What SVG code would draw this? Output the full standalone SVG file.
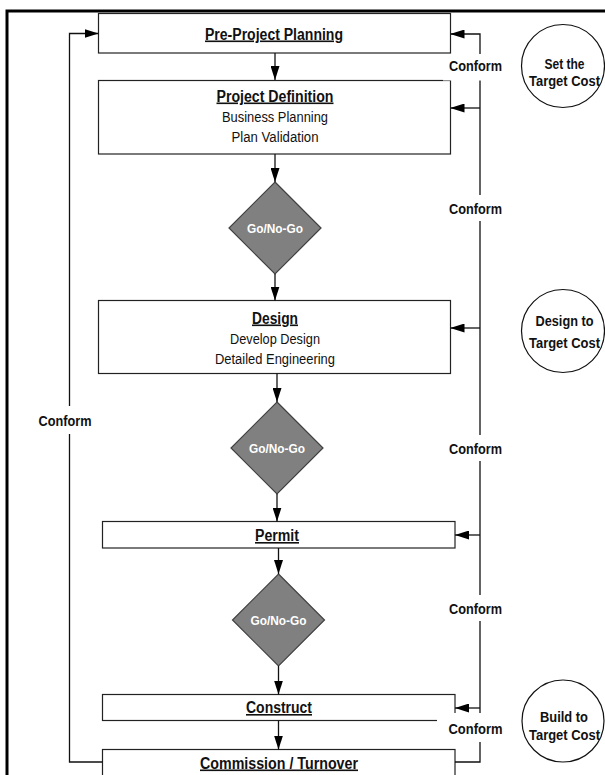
<svg xmlns="http://www.w3.org/2000/svg" width="605" height="775" viewBox="0 0 605 775">
  <style>
    .box { fill: #fff; stroke: #222; stroke-width: 1.2; }
    .dia { fill: #808080; stroke: #404040; stroke-width: 1.2; }
    .ring { fill: #fff; stroke: #111; stroke-width: 1.2; }
    .ln { fill: none; stroke: #111; stroke-width: 1.3; }
    .bg { fill: #fff; stroke: none; }
    text { font-family: "Liberation Sans", Arial, sans-serif; text-anchor: middle; fill: #111; }
    .h { font-size: 16px; font-weight: bold; text-decoration: underline; }
    .s { font-size: 14px; }
    .c { font-size: 15px; font-weight: bold; }
    .g { font-size: 13px; font-weight: bold; fill: #fff; }
  </style>
  <defs>
    <marker id="arrow" viewBox="0 0 10 10" refX="10" refY="5" markerUnits="userSpaceOnUse" markerWidth="14" markerHeight="9" orient="auto" preserveAspectRatio="none">
      <path d="M0,0 L10,5 L0,10 Z" fill="#000"/>
    </marker>
  </defs>

  <rect width="605" height="775" fill="#fff"/>
  <!-- outer frame, runs past the right and bottom edges -->
  <rect x="7" y="11" width="640" height="800" fill="none" stroke="#000" stroke-width="3"/>

  <g id="pre-project">
    <rect class="box" x="98.5" y="13.5" width="352" height="39.5"/>
    <text class="h" x="274" y="39.5" textLength="138" lengthAdjust="spacingAndGlyphs">Pre-Project Planning</text>
  </g>
  <g id="project-definition">
    <rect class="box" x="98.5" y="80.5" width="352" height="73.5"/>
    <text class="h" x="275" y="101.5" textLength="117" lengthAdjust="spacingAndGlyphs">Project Definition</text>
    <text class="s" x="275" y="122" textLength="106" lengthAdjust="spacingAndGlyphs">Business Planning</text>
    <text class="s" x="275" y="142" textLength="87" lengthAdjust="spacingAndGlyphs">Plan Validation</text>
  </g>
  <g id="gate-1">
    <polygon class="dia" points="275,182 321,228 275,274 229,228"/>
    <text class="g" x="275" y="232.5" textLength="56" lengthAdjust="spacingAndGlyphs">Go/No-Go</text>
  </g>
  <g id="design">
    <rect class="box" x="98.5" y="300.5" width="352" height="73"/>
    <text class="h" x="275" y="323.5" textLength="46" lengthAdjust="spacingAndGlyphs">Design</text>
    <text class="s" x="275" y="344" textLength="90" lengthAdjust="spacingAndGlyphs">Develop Design</text>
    <text class="s" x="275" y="364" textLength="120" lengthAdjust="spacingAndGlyphs">Detailed Engineering</text>
  </g>
  <g id="gate-2">
    <polygon class="dia" points="277,402 323,448 277,494 231,448"/>
    <text class="g" x="277" y="452.5" textLength="56" lengthAdjust="spacingAndGlyphs">Go/No-Go</text>
  </g>
  <g id="permit">
    <rect class="box" x="102.5" y="521.5" width="352.5" height="26.5"/>
    <text class="h" x="277" y="541" textLength="44" lengthAdjust="spacingAndGlyphs">Permit</text>
  </g>
  <g id="gate-3">
    <polygon class="dia" points="278.5,574 324.5,620 278.5,666 232.5,620"/>
    <text class="g" x="278.5" y="624.5" textLength="56" lengthAdjust="spacingAndGlyphs">Go/No-Go</text>
  </g>
  <g id="construct">
    <rect class="box" x="102.5" y="694.5" width="352.5" height="26"/>
    <text class="h" x="279" y="713" textLength="66" lengthAdjust="spacingAndGlyphs">Construct</text>
  </g>
  <g id="commission">
    <rect class="box" x="102.5" y="749.5" width="352.5" height="40"/>
    <text class="h" x="279" y="768.5" textLength="158" lengthAdjust="spacingAndGlyphs">Commission / Turnover</text>
  </g>

  <g id="set-target">
    <circle class="ring" cx="563" cy="66" r="41.5"/>
    <text class="c" x="564.5" y="68.5" textLength="40" lengthAdjust="spacingAndGlyphs">Set the</text>
    <text class="c" x="564.5" y="86" textLength="71" lengthAdjust="spacingAndGlyphs">Target Cost</text>
  </g>
  <g id="design-to-target">
    <circle class="ring" cx="563" cy="331" r="41.5"/>
    <text class="c" x="564.5" y="325.5" textLength="58" lengthAdjust="spacingAndGlyphs">Design to</text>
    <text class="c" x="564.5" y="347.5" textLength="71" lengthAdjust="spacingAndGlyphs">Target Cost</text>
  </g>
  <g id="build-to-target">
    <circle class="ring" cx="563" cy="721" r="41"/>
    <text class="c" x="564" y="721.5" textLength="48" lengthAdjust="spacingAndGlyphs">Build to</text>
    <text class="c" x="564.5" y="739.5" textLength="71" lengthAdjust="spacingAndGlyphs">Target Cost</text>
  </g>

  <g id="connectors">
    <!-- main flow -->
    <path class="ln" d="M275 53 V80" marker-end="url(#arrow)"/>
    <path class="ln" d="M275 154 V182" marker-end="url(#arrow)"/>
    <path class="ln" d="M275 274 V300.5" marker-end="url(#arrow)"/>
    <path class="ln" d="M277 373.5 V402" marker-end="url(#arrow)"/>
    <path class="ln" d="M277 494 V521.5" marker-end="url(#arrow)"/>
    <path class="ln" d="M278.5 548 V574" marker-end="url(#arrow)"/>
    <path class="ln" d="M278.5 666 V694.5" marker-end="url(#arrow)"/>
    <path class="ln" d="M278.5 720.5 V749.5" marker-end="url(#arrow)"/>
    <!-- left feedback loop -->
    <path class="ln" d="M102.5 762 H69.5 V33.5 H98.5" marker-end="url(#arrow)"/>
    <!-- right conformance bus -->
    <path class="ln" d="M455 762 H480 V34 H450.5" marker-end="url(#arrow)"/>
    <path class="ln" d="M480 108 H450.5" marker-end="url(#arrow)"/>
    <path class="ln" d="M480 328 H450.5" marker-end="url(#arrow)"/>
    <path class="ln" d="M480 535 H455" marker-end="url(#arrow)"/>
    <path class="ln" d="M480 708 H455" marker-end="url(#arrow)"/>
    <!-- labels -->
    <rect class="bg" x="443" y="54" width="65" height="26.5"/>
    <text class="c" x="475.5" y="70.5" textLength="53" lengthAdjust="spacingAndGlyphs">Conform</text>
    <rect class="bg" x="445" y="195" width="62" height="26"/>
    <text class="c" x="475.5" y="213.5" textLength="53" lengthAdjust="spacingAndGlyphs">Conform</text>
    <rect class="bg" x="36" y="406" width="60" height="28"/>
    <text class="c" x="65" y="425.5" textLength="53" lengthAdjust="spacingAndGlyphs">Conform</text>
    <rect class="bg" x="445" y="435" width="62" height="26"/>
    <text class="c" x="475.5" y="453.5" textLength="53" lengthAdjust="spacingAndGlyphs">Conform</text>
    <rect class="bg" x="445" y="595" width="62" height="26"/>
    <text class="c" x="475.5" y="613.5" textLength="53" lengthAdjust="spacingAndGlyphs">Conform</text>
    <rect class="bg" x="437" y="713" width="73" height="29"/>
    <text class="c" x="475.5" y="733.5" textLength="54" lengthAdjust="spacingAndGlyphs">Conform</text>
  </g>
</svg>
